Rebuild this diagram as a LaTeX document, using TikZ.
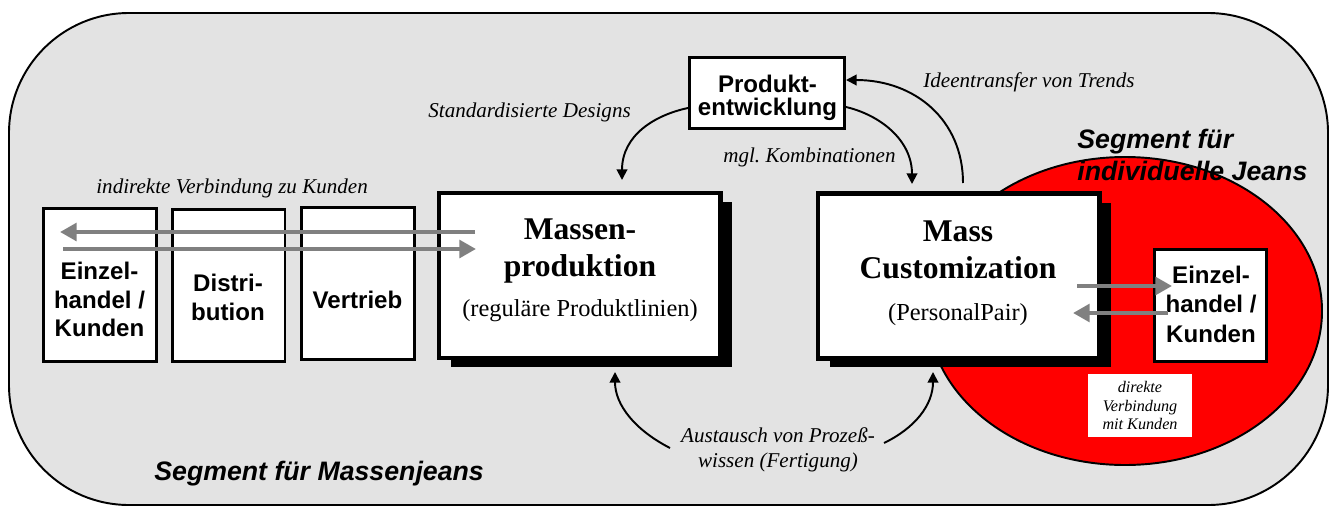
\documentclass[tikz,border=0pt]{standalone}
\usepackage{fontspec}
\setmainfont{Liberation Serif}
\setsansfont{Liberation Sans}
\usetikzlibrary{arrows.meta, positioning, shadows, calc}

\definecolor{bggray}{RGB}{227,227,227}
\definecolor{arrgray}{RGB}{128,128,128}

\begin{document}
\begin{tikzpicture}[
  x=0.02cm, y=-0.02cm,
  chainbox/.style={draw, line width=1.7pt, fill=white, inner sep=0pt,
                   minimum width=2.26cm, minimum height=3.06cm},
  bigbox/.style={draw, line width=2.3pt, fill=white, inner sep=0pt,
                 minimum width=5.64cm, minimum height=3.3cm,
                 drop shadow={shadow xshift=0.24cm, shadow yshift=-0.18cm,
                              fill=black, opacity=1}},
  boxtxt/.style={align=center, inner sep=0pt,
                 font=\sffamily\bfseries\fontsize{13.7}{16.3}\selectfont},
  bigtxt/.style={align=center, inner sep=0pt,
                 font=\bfseries\fontsize{18}{21}\selectfont},
  note/.style={inner sep=0pt, font=\itshape\fontsize{12}{14.2}\selectfont},
  segtxt/.style={inner sep=0pt, align=left,
                 font=\sffamily\bfseries\itshape\fontsize{15.2}{18.2}\selectfont},
  garr/.style={-{Triangle[length=9.5pt, width=10pt]}, line width=2.8pt, draw=arrgray},
  barr/.style={-{Triangle[length=6pt, width=6pt]}, line width=1.1pt},
]
  \useasboundingbox (0,0) rectangle (1334,507);

  % segments
  \draw[fill=bggray, line width=1.1pt, rounded corners=2.4cm] (9,13) rectangle (1328,505);
  \draw[fill=red, line width=1.1pt] (1125,311) ellipse [x radius=197, y radius=154];
  \node[segtxt, anchor=base west] (segmj) at (154,480) {Segment für Massenjeans};
  \node[segtxt, anchor=base west] (segij) at (1077,180) {Segment für\\individuelle Jeans};

  % indirect chain
  \node[chainbox] (ekl)  at (100,285) {};
  \node[chainbox] (dist) at (228.5,285.5) {};
  \node[chainbox] (vert) at (358,283.5) {};
  \node[boxtxt] at (99.5,299.5) {Einzel-\\handel /\\Kunden};
  \node[boxtxt] at (228,297.5) {Distri-\\bution};
  \node[boxtxt] at (357.5,299.5) {Vertrieb};
  \node[note, anchor=base west] (ind) at (96,193) {indirekte Verbindung zu Kunden};

  % production
  \node[bigbox] (mp) at (579.5,275.5) {};
  \node[bigtxt] (mptxt) at (580,270.5)
    {Massen-\\produktion\\[1.8pt]{\mdseries\fontsize{13.9}{16}\selectfont(reguläre Produktlinien)}};
  \node[bigbox] (mc) at (958.5,276) {};
  \node[bigtxt] (mctxt) at (958,273)
    {Mass\\Customization\\[3pt]{\mdseries\fontsize{13.9}{16}\selectfont(PersonalPair)}};

  % product development
  \node[draw, line width=1.7pt, fill=white, inner sep=0pt,
        minimum width=3.1cm, minimum height=1.42cm] (pe) at (767,93) {};
  \node[boxtxt, font=\sffamily\bfseries\fontsize{13.7}{13.1}\selectfont] at (767.5,97.5)
    {Produkt-\\entwicklung};

  % direct chain
  \node[chainbox, minimum width=2.24cm, minimum height=2.24cm] (ekr) at (1210.5,305.5) {};
  \node[boxtxt, font=\sffamily\bfseries\fontsize{13.7}{16.8}\selectfont] at (1211,304)
    {Einzel-\\handel /\\Kunden};
  \node[fill=white, minimum width=2.08cm, minimum height=1.26cm, inner sep=0pt, align=center,
        font=\itshape\fontsize{9.2}{10.5}\selectfont] (dv) at (1140,405.5)
    {direkte\\Verbindung\\mit Kunden};

  % labels
  \node[note, anchor=base west] (sdl) at (428,117) {Standardisierte Designs};
  \node[note, anchor=base west] (mkl) at (723,162) {mgl.\ Kombinationen};
  \node[note, anchor=base west] (itl) at (923,87) {Ideentransfer von Trends};
  \node[note, align=center, anchor=base] (apl) at (778,467) {Austausch von Prozeß-\\wissen (Fertigung)};

  % arrow ends
  \coordinate (sdend) at (622,180);
  \coordinate (mkend) at (912,184);
  \coordinate (itbeg) at (963,183);
  \coordinate (apl1) at (670,448);
  \coordinate (apl2) at (884,443);
  \coordinate (mpbot) at (615,372);
  \coordinate (mcbot) at (933,372);

  \draw[barr] ([yshift=-0.3cm]pe.west) .. controls (655,115) and (622,135) .. (sdend);
  \draw[barr] ([yshift=-0.28cm]pe.east) .. controls (880,115) and (912,140) .. (mkend);
  \draw[barr] (itbeg) .. controls (963,120) and (915,80) .. ([yshift=0.26cm]pe.east);
  \draw[barr] (apl1) .. controls (635,430) and (615,405) .. (mpbot);
  \draw[barr] (apl2) .. controls (915,428) and (933,405) .. (mcbot);

  % gray flows
  \coordinate (il1) at (475,232);
  \coordinate (il2) at (60,232);
  \coordinate (il3) at (63,249);
  \coordinate (il4) at (476,249);
  \coordinate (dl1) at (1077,286);
  \coordinate (dl2) at (1172,286);
  \coordinate (dl3) at (1168,313);
  \coordinate (dl4) at (1073,313);
  \draw[garr] (il1) -- (il2);
  \draw[garr] (il3) -- (il4);
  \draw[garr] (dl1) -- (dl2);
  \draw[garr] (dl3) -- (dl4);
\end{tikzpicture}
\end{document}
